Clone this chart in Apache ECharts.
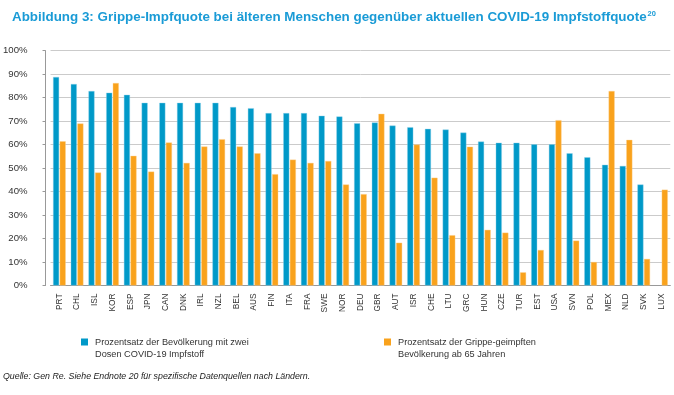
<!DOCTYPE html>
<html>
<head>
<meta charset="utf-8">
<script src="https://cdn.jsdelivr.net/npm/echarts@6/dist/echarts.min.js"></script>
<style>
html,body{margin:0;padding:0;background:#fff;}
#c{width:674px;height:395px;}
</style>
</head>
<body>
<div id="c"></div>
<script>
var countries = ['PRT','CHL','ISL','KOR','ESP','JPN','CAN','DNK','IRL','NZL','BEL','AUS','FIN','ITA','FRA','SWE','NOR','DEU','GBR','AUT','ISR','CHE','LTU','GRC','HUN','CZE','TUR','EST','USA','SVN','POL','MEX','NLD','SVK','LUX'];
var covidTwoDoses = [88.8,85.8,82.8,82.1,81.2,77.8,77.8,77.8,77.8,77.8,76.0,75.5,73.4,73.4,73.4,72.3,72.0,69.1,69.4,68.1,67.4,66.7,66.4,65.1,61.3,60.8,60.8,60.1,60.1,56.3,54.6,51.4,50.9,43.0,null];
var fluOver65 = [61.4,69.0,48.1,86.2,55.2,48.5,60.9,52.2,59.2,62.3,59.2,56.3,47.4,53.6,52.2,53.0,43.0,38.9,73.1,18.2,60.0,45.9,21.4,59.1,23.7,22.5,5.6,15.1,70.4,19.1,10.0,82.8,62.0,11.3,40.8];
var yTicks = [0,10,20,30,40,50,60,70,80,90,100];
var seriesNames = ['Prozentsatz der Bevölkerung mit zwei\nDosen COVID-19 Impfstoff','Prozentsatz der Grippe-geimpften\nBevölkerung ab 65 Jahren'];

var FONT = '"Liberation Sans", Arial, sans-serif';
var BLUE = '#0099c8';
var ORANGE = '#f9a21c';
var TITLE_BLUE = '#1a9bd6';

var chart = echarts.init(document.getElementById('c'), null, {renderer:'canvas'});
var legendText = {fontFamily: FONT, fontSize: 9.2, color: '#333', lineHeight: 12, padding: [0, 0, 0, 2]};
chart.setOption({
  animation: false,
  title: {
    left: 7, top: 3,
    text: '{t|Abbildung 3: Grippe-Impfquote bei älteren Menschen gegenüber aktuellen COVID-19 Impfstoffquote}{s|20}',
    textStyle: {
      rich: {
        t: {fontFamily: FONT, fontWeight: 'bold', fontSize: 13.4, color: TITLE_BLUE, lineHeight: 18},
        s: {fontFamily: FONT, fontWeight: 'bold', fontSize: 7.5, color: TITLE_BLUE, verticalAlign: 'top', lineHeight: 18, padding:[2,0,6,1]}
      }
    }
  },
  legend: [
    {data: [seriesNames[0]], left: 81, top: 324, padding: 0, itemWidth: 7, itemHeight: 7, itemGap: 0,
     icon: 'rect', itemStyle: {borderWidth: 0}, textStyle: legendText, formatter: function(n){ return '\n' + n; }},
    {data: [seriesNames[1]], left: 384, top: 324, padding: 0, itemWidth: 7, itemHeight: 7, itemGap: 0,
     icon: 'rect', itemStyle: {borderWidth: 0}, textStyle: legendText, formatter: function(n){ return '\n' + n; }}
  ],
  grid: {left: 50.5, right: 3.7, top: 50.7, bottom: 109.5, containLabel: false},
  xAxis: {
    type: 'category', data: countries,
    axisLine: {show: true, lineStyle: {color: '#999', width: 1}},
    axisTick: {show: false},
    axisLabel: {rotate: 90, interval: 0, margin: 8, fontFamily: FONT, fontSize: 8.3, color: '#333'}
  },
  yAxis: {
    type: 'value', min: 0, max: 100, interval: 10, offset: 5,
    axisLine: {show: true, lineStyle: {color: '#999', width: 1}},
    axisTick: {show: true, length: 3, lineStyle: {color: '#999'}},
    axisLabel: {formatter: '{value}%', margin: 18, fontFamily: FONT, fontSize: 9.6, color: '#333'},
    splitLine: {show: true, lineStyle: {color: '#cbcbcb', width: 1}}
  },
  series: [
    {name: seriesNames[0], type: 'bar', data: covidTwoDoses, barWidth: 6, barGap: '10%',
     itemStyle: {color: BLUE, borderColor: '#8fd2ec', borderWidth: 0.4}},
    {name: seriesNames[1], type: 'bar', data: fluOver65, barWidth: 6, barGap: '10%',
     itemStyle: {color: ORANGE, borderColor: '#fcd08a', borderWidth: 0.4}}
  ],
  graphic: [
    {type: 'text', left: 3, top: 372,
     style: {text: 'Quelle: Gen Re. Siehe Endnote 20 für spezifische Datenquellen nach Ländern.',
             font: 'italic 8.8px ' + FONT, fill: '#222'}}
  ]
});
</script>
</body>
</html>
